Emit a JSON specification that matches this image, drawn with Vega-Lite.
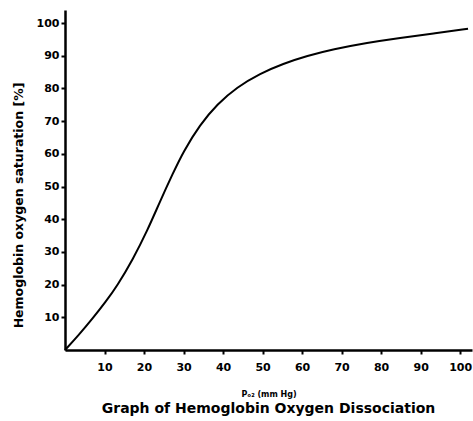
{
  "$schema": "https://vega.github.io/schema/vega-lite/v6.json",
  "autosize": "none",
  "width": 407,
  "height": 340,
  "padding": {"left": 65, "top": 10, "right": 1, "bottom": 71},
  "background": "white",
  "config": {
    "view": {"stroke": null},
    "font": "DejaVu Sans",
    "axis": {"grid": false, "domainColor": "black", "tickColor": "black", "labelColor": "black", "titleColor": "black", "domainWidth": 2.5, "tickWidth": 2, "labelFont": "DejaVu Sans", "labelFontWeight": "bold", "labelFontSize": 11, "titleFont": "DejaVu Sans", "titleFontWeight": "bold"}
  },
  "title": {
    "text": "Graph of Hemoglobin  Oxygen Dissociation",
    "orient": "bottom",
    "anchor": "middle",
    "font": "DejaVu Sans",
    "fontSize": 14,
    "fontWeight": "bold",
    "color": "black",
    "offset": 4
  },
  "data": {
    "values": [
      {"p": 0, "s": 0},
      {"p": 3.5, "s": 4.6},
      {"p": 7.1, "s": 9.8},
      {"p": 10.2, "s": 14.6},
      {"p": 13.2, "s": 19.6},
      {"p": 17.2, "s": 27.8},
      {"p": 20.8, "s": 36.4},
      {"p": 24.1, "s": 45.6},
      {"p": 27.3, "s": 54.0},
      {"p": 29.9, "s": 60.6},
      {"p": 34.2, "s": 69.0},
      {"p": 38.5, "s": 75.2},
      {"p": 43.5, "s": 80.4},
      {"p": 49.4, "s": 84.6},
      {"p": 55.2, "s": 87.6},
      {"p": 61.3, "s": 90.0},
      {"p": 67.8, "s": 92.0},
      {"p": 76.5, "s": 94.0},
      {"p": 84.8, "s": 95.5},
      {"p": 93.2, "s": 96.8},
      {"p": 102, "s": 98.3}
    ]
  },
  "mark": {"type": "line", "color": "black", "strokeWidth": 2, "interpolate": "basis"},
  "encoding": {
    "x": {
      "field": "p", "type": "quantitative",
      "scale": {"domain": [0, 103], "nice": false, "zero": true},
      "axis": {"values": [10, 20, 30, 40, 50, 60, 70, 80, 90, 100], "tickSize": 4, "labelPadding": 7, "title": "Pₒ₂ (mm Hg)", "titleFontSize": 8, "titlePadding": 18}
    },
    "y": {
      "field": "s", "type": "quantitative",
      "scale": {"domain": [0, 104], "nice": false},
      "axis": {"values": [10, 20, 30, 40, 50, 60, 70, 80, 90, 100], "tickSize": 4, "labelPadding": 2, "title": "Hemoglobin oxygen saturation [%]", "titleFontSize": 12.5, "titleX": -40, "titleY": 195}
    }
  }
}
